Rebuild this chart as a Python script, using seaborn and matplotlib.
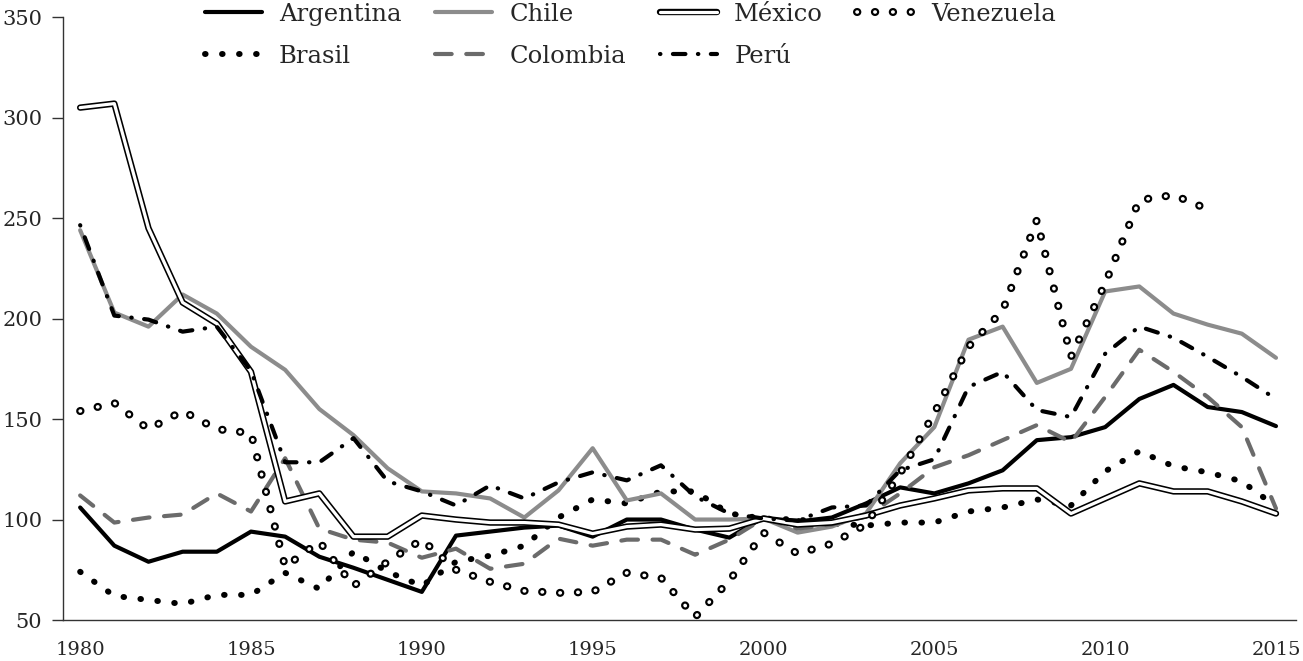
import matplotlib
matplotlib.use("Agg")
import matplotlib.pyplot as plt
import matplotlib.patheffects as pe
import seaborn as sns
import numpy as np

# índices (base 2000 = 100)
years = list(range(1980, 2016))

argentina = [106, 87, 79, 84, 84, 94, 91.5, 81.5, 76, 70,
             64, 92, 94, 96, 97, 91.5, 100, 100, 95, 91,
             101, 99, 101, 108, 116, 113, 118, 124.5, 139.5, 141,
             146, 160, 167, 156, 153.5, 146.5]
brasil = [74, 62, 60, 58, 62.5, 62.5, 73.5, 65.5, 84, 74,
          67, 79, 82, 87, 101, 110, 108, 114, 114, 103,
          100.5, 100, 98, 97, 98.5, 98.5, 104, 106, 110, 107,
          124, 134, 126.5, 123.5, 119, 106.5]
chile = [244, 203, 196, 212, 202.5, 186, 174.5, 155, 142, 125.5,
         114, 113, 110.5, 101, 114.5, 135.5, 109.5, 113, 100, 100,
         100.5, 93.5, 96.5, 103, 128, 146, 189.5, 196, 168, 175,
         213.5, 216, 202.5, 197, 192.5, 180.5]
colombia = [112, 98.5, 101, 102.5, 113, 104, 130.5, 95.5, 90, 88.5,
            81, 85.5, 75.5, 78, 90.5, 87, 90, 90, 82.5, 90,
            100.5, 95.5, 97.5, 101.5, 113, 126, 132, 139.5, 147, 138.5,
            161, 184.5, 173.5, 161, 146, 105.5]
mexico = [305, 307, 245, 208, 197.5, 173.5, 109, 113, 91.5, 91.5,
          102, 100, 98.5, 98.5, 97.5, 93, 96.5, 97.5, 95, 95.5,
          100.5, 97.5, 98.5, 102, 107, 110.5, 114.5, 115.5, 115.5, 103,
          110.5, 118, 114, 114, 109, 103]
peru = [246.5, 201.5, 199.5, 193.5, 196, 174, 128.5, 128.5, 140.5, 119,
        114, 107, 117, 110.5, 118.5, 123.5, 119.5, 127, 111.5, 103,
        100.5, 99.5, 106, 107, 124.5, 130, 166, 173.5, 154.5, 151,
        182.5, 196, 190.5, 181, 171, 160]
venezuela = [154, 158, 145, 154, 145, 143, 76.5, 89, 67, 79,
             90, 75, 69, 64.5, 63.5, 64, 73.5, 71, 51.5, 69.5,
             93.5, 83, 88, 97.5, 123, 153, 186, 204, 249, 181,
             217.5, 259, 261.5, 254.5, np.nan, np.nan]

xticks = [1980, 1985, 1990, 1995, 2000, 2005, 2010, 2015]
yticks = [50, 100, 150, 200, 250, 300, 350]

sns.set_style("ticks")
plt.rcParams["font.family"] = ["DejaVu Serif"]

fig, ax = plt.subplots(figsize=(13.03, 6.61), dpi=100)
fig.subplots_adjust(left=0.0484, right=0.995, bottom=0.062, top=0.974)

sns.lineplot(x=years, y=argentina, ax=ax, color="black", lw=3,
             solid_capstyle="round", label="Argentina")
sns.lineplot(x=years, y=brasil, ax=ax, color="black", lw=4.3,
             ls=(0, (0.1, 2.75)), dash_capstyle="round", label="Brasil")
sns.lineplot(x=years, y=chile, ax=ax, color="#8c8c8c", lw=3,
             solid_capstyle="round", label="Chile")
sns.lineplot(x=years, y=colombia, ax=ax, color="#6b6b6b", lw=3,
             ls=(0, (4, 3.5)), dash_capstyle="round", label="Colombia")
# México: doble trazo (negro con interior blanco)
sns.lineplot(x=years, y=mexico, ax=ax, color="white", lw=2.3,
             solid_capstyle="round", label="México",
             path_effects=[pe.Stroke(linewidth=4.6, foreground="black"), pe.Normal()])
sns.lineplot(x=years, y=peru, ax=ax, color="black", lw=3,
             ls=(0, (0.1, 3, 3, 3)), dash_capstyle="round", label="Perú")
# Venezuela: círculos abiertos
sns.lineplot(x=years, y=venezuela, ax=ax, color="white", lw=2.6,
             ls=(0, (0.1, 4.85)), dash_capstyle="round", label="Venezuela",
             path_effects=[pe.Stroke(linewidth=5.8, foreground="black"), pe.Normal()])

ax.set_xlim(1979.5, 2015.6)
ax.set_ylim(50, 350)
ax.set_xticks(xticks)
ax.set_yticks(yticks)
ax.set_xlabel("")
ax.set_ylabel("")
sns.despine(ax=ax)
for s in ["left", "bottom"]:
    ax.spines[s].set_color("#333333")
    ax.spines[s].set_linewidth(1)
ax.tick_params(axis="y", length=8, width=1, color="#333333", pad=7, labelsize=15)
ax.tick_params(axis="x", length=0, pad=15, labelsize=14)

handles, labels = ax.get_legend_handles_labels()
ax.legend(handles, labels, ncol=4, loc="upper left",
          bbox_to_anchor=(0.157, 0.9955), bbox_transform=fig.transFigure,
          frameon=False, fontsize=17.5, handlelength=2.35, handletextpad=0.7,
          columnspacing=1.4, labelspacing=0.78, borderpad=0, borderaxespad=0)

fig.savefig("out.png", dpi=100)
